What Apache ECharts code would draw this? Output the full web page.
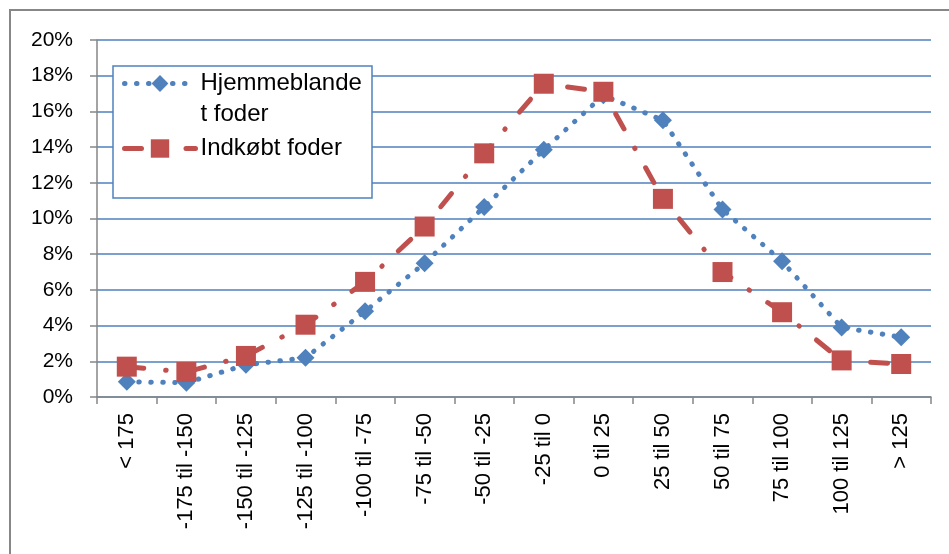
<!DOCTYPE html>
<html>
<head>
<meta charset="utf-8">
<script src="https://cdn.jsdelivr.net/npm/echarts@6/dist/echarts.min.js"></script>
<style>
  html, body { margin: 0; padding: 0; background: #fff; }
  #main { width: 949px; height: 554px; }
</style>
</head>
<body>
<div id="main"></div>
<script>
// kategorier (afvigelse)
const categories = ['< 175', '-175 til -150', '-150 til -125', '-125 til -100', '-100 til -75',
  '-75 til -50', '-50 til -25', '-25 til 0', '0 til 25', '25 til 50', '50 til 75',
  '75 til 100', '100 til 125', '> 125'];
// andel i procent
const hjemmeblandet = [0.85, 0.8, 1.8, 2.2, 4.8, 7.5, 10.65, 13.85, 16.9, 15.5, 10.5, 7.6, 3.9, 3.35];
const indkobt = [1.7, 1.4, 2.3, 4.05, 6.45, 9.55, 13.65, 17.55, 17.1, 11.1, 7.0, 4.75, 2.05, 1.85];

const blue = '#4F81BD';
const red = '#C0504D';
const font = 'Liberation Sans, Arial, sans-serif';

let myChart = echarts.init(document.getElementById('main'));

myChart.setOption({
  animation: false,
  textStyle: { fontFamily: font, color: '#000' },
  grid: { left: 97, right: 18, top: 40, bottom: 157, containLabel: false, outerBoundsMode: 'none' },
  graphic: [
    // ramme rundt om diagrammet
    { type: 'rect', z: -1, shape: { x: 10, y: 10, width: 1000, height: 1000 },
      style: { fill: null, stroke: '#878787', lineWidth: 2 } },
    // legend boks
    { type: 'rect', z: 3, shape: { x: 113, y: 66, width: 259, height: 132 },
      style: { fill: '#fff', stroke: blue, lineWidth: 1.5 } }
  ],
  legend: [
    {
      data: ['Hjemmeblandet foder'],
      left: 122, top: 37, padding: 0,
      itemWidth: 71, itemHeight: 21,
      lineStyle: { width: 5 },
      // tom første linje, så ikonet står ud for "Hjemmeblande"
      formatter: () => ' \nHjemmeblande\nt foder',
      textStyle: { fontSize: 24, lineHeight: 31, color: '#000', fontFamily: font }
    },
    {
      data: ['Indkøbt foder'],
      left: 122, top: 133, padding: 0,
      itemWidth: 71, itemHeight: 23,
      lineStyle: { width: 5 },
      textStyle: { fontSize: 24, lineHeight: 31, color: '#000', fontFamily: font }
    }
  ],
  xAxis: {
    type: 'category',
    data: categories,
    axisLine: { lineStyle: { color: '#868686', width: 1.5 } },
    axisTick: { show: true, length: 7, interval: 0, lineStyle: { color: '#868686', width: 1.5 } },
    axisLabel: { interval: 0, rotate: 90, margin: 16, fontSize: 22, color: '#000', fontFamily: font }
  },
  yAxis: {
    type: 'value',
    min: 0, max: 20, interval: 2,
    axisLine: { show: true, lineStyle: { color: '#868686', width: 1.5 } },
    axisTick: { show: true, length: 7, lineStyle: { color: '#868686', width: 1.5 } },
    axisLabel: { formatter: '{value}%', margin: 24, fontSize: 21, color: '#000', fontFamily: font },
    splitLine: { lineStyle: { color: blue, width: 1.5 } }
  },
  series: [
    {
      name: 'Hjemmeblandet foder',
      type: 'line',
      data: hjemmeblandet,
      symbol: 'diamond',
      symbolSize: 18,
      itemStyle: { color: blue },
      lineStyle: { color: blue, width: 5, type: [0.5, 11.5], cap: 'round' }
    },
    {
      name: 'Indkøbt foder',
      type: 'line',
      data: indkobt,
      symbol: 'rect',
      symbolSize: 20,
      itemStyle: { color: red },
      lineStyle: { color: red, width: 5, type: [17, 22, 0.5, 22], cap: 'round' }
    }
  ]
});
</script>
</body>
</html>
